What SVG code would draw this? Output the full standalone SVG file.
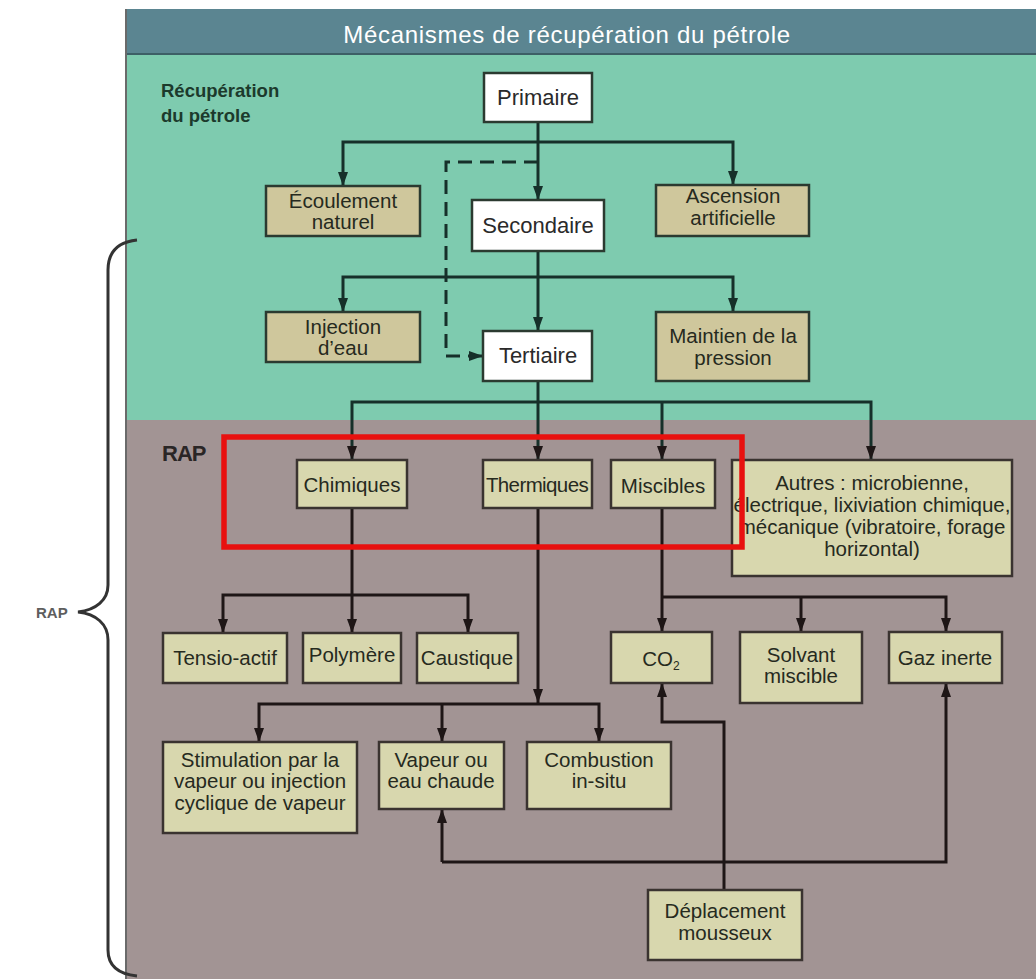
<svg xmlns="http://www.w3.org/2000/svg" width="1036" height="979" viewBox="0 0 1036 979">
<style>
.t{font-family:"Liberation Sans",Arial,sans-serif;font-size:20.5px;fill:#262a1e;text-anchor:middle}
.tw{font-family:"Liberation Sans",Arial,sans-serif;font-size:22px;fill:#2a2a2a;text-anchor:middle}
.bt{fill:#cfc79c;stroke:#2b3a30;stroke-width:2.5}
.bb{fill:#d8d7ae;stroke:#3a3330;stroke-width:2.5}
.bw{fill:#ffffff;stroke:#2b3a30;stroke-width:2.5}
.ct{fill:none;stroke:#16302a;stroke-width:3}
.cb{fill:none;stroke:#1e1616;stroke-width:3}
</style>
<defs>
<marker id="at" viewBox="0 0 14 10" refX="14" refY="5" markerWidth="14" markerHeight="10" markerUnits="userSpaceOnUse" orient="auto"><path d="M0,0 L14,5 L0,10 z" fill="#16302a"/></marker>
<marker id="ab" viewBox="0 0 14 10" refX="14" refY="5" markerWidth="14" markerHeight="10" markerUnits="userSpaceOnUse" orient="auto"><path d="M0,0 L14,5 L0,10 z" fill="#1e1616"/></marker>
</defs>
<rect x="0" y="0" width="1036" height="979" fill="#ffffff"/>
<g id="background">
<rect x="126" y="9" width="910" height="45" fill="#5b8591"/>
<line x1="126" y1="54" x2="1036" y2="54" stroke="#3d5f66" stroke-width="2"/>
<rect x="126" y="55" width="910" height="365" fill="#7ecbaf"/>
<rect x="126" y="420" width="910" height="559" fill="#a29494"/>
<line x1="126" y1="9" x2="126" y2="979" stroke="#6a6a6a" stroke-width="2"/>
<text x="567" y="43" font-family="'Liberation Sans',Arial,sans-serif" font-size="24" letter-spacing="0.7" fill="#ffffff" text-anchor="middle">Mécanismes de récupération du pétrole</text>
<text x="161" y="97" font-family="'Liberation Sans',Arial,sans-serif" font-size="18.5" font-weight="bold" fill="#1c3a2c">Récupération</text>
<text x="161" y="122" font-family="'Liberation Sans',Arial,sans-serif" font-size="18.5" font-weight="bold" fill="#1c3a2c">du pétrole</text>
<text x="162" y="461" font-family="'Liberation Sans',Arial,sans-serif" font-size="22" font-weight="bold" letter-spacing="-1" fill="#2a2626">RAP</text>
</g>
<g id="brace">
<path d="M137,240 C118,242 108,252 108,270 L108,585 C108,600 96,610 78,612 C96,614 108,624 108,640 L108,950 C108,966 118,974 137,976" fill="none" stroke="#333333" stroke-width="3"/>
<text x="36" y="618" font-family="'Liberation Sans',Arial,sans-serif" font-size="15" font-weight="bold" fill="#5e5e5e">RAP</text>
</g>
<g id="connectors">
<path class="ct" d="M538,122 V200" marker-end="url(#at)"/>
<path class="ct" d="M538,142 H343 V186" marker-end="url(#at)"/>
<path class="ct" d="M538,142 H733 V185" marker-end="url(#at)"/>
<path class="ct" d="M538,162 H446 V356 H483" stroke-dasharray="14 8" marker-end="url(#at)"/>
<path class="ct" d="M538,251 V331" marker-end="url(#at)"/>
<path class="ct" d="M538,277 H343 V312" marker-end="url(#at)"/>
<path class="ct" d="M538,277 H733 V312" marker-end="url(#at)"/>
<path class="ct" d="M538,381 V460" marker-end="url(#ab)"/>
<path class="ct" d="M538,402 H352 V460" marker-end="url(#ab)"/>
<path class="ct" d="M538,402 H871 V460" marker-end="url(#ab)"/>
<path class="ct" d="M662,402 V460" marker-end="url(#ab)"/>
<path class="cb" d="M352,508 V633" marker-end="url(#ab)"/>
<path class="cb" d="M352,595 H223 V633" marker-end="url(#ab)"/>
<path class="cb" d="M352,595 H468 V633" marker-end="url(#ab)"/>
<path class="cb" d="M538,508 V703" marker-end="url(#ab)"/>
<path class="cb" d="M538,704 H259 V742" marker-end="url(#ab)"/>
<path class="cb" d="M442,704 V742" marker-end="url(#ab)"/>
<path class="cb" d="M538,704 H599 V742" marker-end="url(#ab)"/>
<path class="cb" d="M662,508 V632" marker-end="url(#ab)"/>
<path class="cb" d="M662,597 H946 V632" marker-end="url(#ab)"/>
<path class="cb" d="M801,597 V632" marker-end="url(#ab)"/>
<path class="cb" d="M724,890 V722 H662 V683" marker-end="url(#ab)"/>
<path class="cb" d="M442,862 H946 V683" marker-end="url(#ab)"/>
<path class="cb" d="M442,862 V809" marker-end="url(#ab)"/>
</g>
<g id="primaire"><rect class="bw" x="484" y="73" width="108" height="49"/><text class="tw" x="538" y="105">Primaire</text></g>
<g id="ecoulement"><rect class="bt" x="266" y="186" width="154" height="50"/><text class="t" x="343" y="208">Écoulement</text><text class="t" x="343" y="229">naturel</text></g>
<g id="ascension"><rect class="bt" x="656" y="185" width="153" height="51"/><text class="t" x="733" y="203" font-size="19.5">Ascension</text><text class="t" x="733" y="225" font-size="19.5">artificielle</text></g>
<g id="secondaire"><rect class="bw" x="472" y="200" width="132" height="51"/><text class="tw" x="538" y="233">Secondaire</text></g>
<g id="injection"><rect class="bt" x="266" y="312" width="154" height="50"/><text class="t" x="343" y="334">Injection</text><text class="t" x="343" y="355">d’eau</text></g>
<g id="maintien"><rect class="bt" x="656" y="312" width="153" height="69"/><text class="t" x="733" y="343">Maintien de la</text><text class="t" x="733" y="365">pression</text></g>
<g id="tertiaire"><rect class="bw" x="483" y="331" width="109" height="50"/><text class="tw" x="538" y="363">Tertiaire</text></g>
<g id="chimiques"><rect class="bb" x="297" y="460" width="110" height="48"/><text class="t" x="352" y="492">Chimiques</text></g>
<g id="thermiques"><rect class="bb" x="483" y="460" width="109" height="48"/><text class="t" x="537" y="492" letter-spacing="-0.6">Thermiques</text></g>
<g id="miscibles"><rect class="bb" x="611" y="460" width="104" height="48"/><text class="t" x="663" y="493">Miscibles</text></g>
<g id="autres"><rect class="bb" x="732" y="460" width="280" height="116"/>
<text class="t" x="872" y="490" font-size="19.5">Autres : microbienne,</text>
<text class="t" x="872" y="512" font-size="19.5">électrique, lixiviation chimique,</text>
<text class="t" x="872" y="534" font-size="19.5">mécanique (vibratoire, forage</text>
<text class="t" x="872" y="556" font-size="19.5">horizontal)</text></g>
<g id="tensio"><rect class="bb" x="163" y="633" width="124" height="50"/><text class="t" x="225" y="665">Tensio-actif</text></g>
<g id="polymere"><rect class="bb" x="303" y="633" width="98" height="50"/><text class="t" x="352" y="662">Polymère</text></g>
<g id="caustique"><rect class="bb" x="417" y="633" width="101" height="50"/><text class="t" x="467" y="665">Caustique</text></g>
<g id="co2"><rect class="bb" x="611" y="632" width="101" height="51"/><text class="t" x="661" y="666">CO<tspan font-size="12" dy="4">2</tspan></text></g>
<g id="solvant"><rect class="bb" x="740" y="632" width="122" height="71"/><text class="t" x="801" y="662">Solvant</text><text class="t" x="801" y="683">miscible</text></g>
<g id="gaz"><rect class="bb" x="889" y="632" width="113" height="51"/><text class="t" x="945" y="665">Gaz inerte</text></g>
<g id="stimulation"><rect class="bb" x="163" y="742" width="194" height="91"/><text class="t" x="260" y="767">Stimulation par la</text><text class="t" x="260" y="788">vapeur ou injection</text><text class="t" x="260" y="810">cyclique de vapeur</text></g>
<g id="vapeur"><rect class="bb" x="379" y="742" width="125" height="67"/><text class="t" x="441" y="767">Vapeur ou</text><text class="t" x="441" y="788">eau chaude</text></g>
<g id="combustion"><rect class="bb" x="527" y="742" width="144" height="67"/><text class="t" x="599" y="767">Combustion</text><text class="t" x="599" y="788">in-situ</text></g>
<g id="deplacement"><rect class="bb" x="648" y="890" width="154" height="70"/><text class="t" x="725" y="918">Déplacement</text><text class="t" x="725" y="940">mousseux</text></g>
<g id="highlight"><rect x="224" y="437" width="518" height="110" fill="none" stroke="#e8100f" stroke-width="5.5"/></g>
</svg>
